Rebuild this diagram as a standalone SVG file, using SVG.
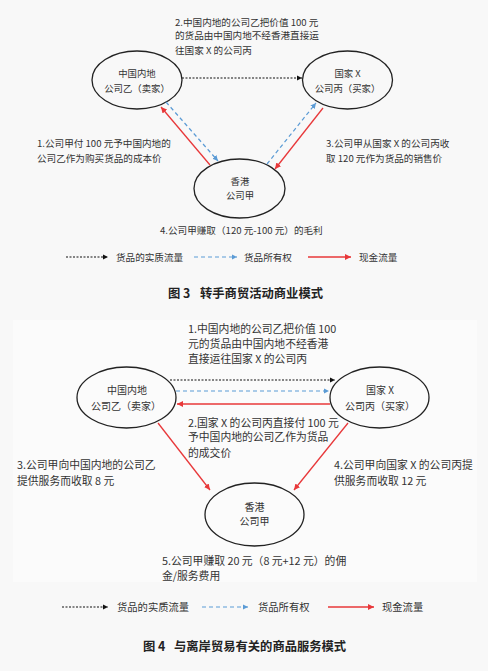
<svg xmlns="http://www.w3.org/2000/svg" width="488" height="671" viewBox="0 0 488 671">
<defs>
<style>
text{font-family:"Noto Sans CJK SC","Noto Sans",sans-serif;fill:#333}
.l1{font-size:9.6px}
.n1{font-size:9.4px;text-anchor:middle}
.l2{font-size:10.8px}
.n2{font-size:10px;text-anchor:middle}
.lg1{font-size:9.6px}
.lg2{font-size:10.3px}
.cap{font-size:12.3px;font-weight:bold;fill:#222}
.node{fill:none;stroke:#222;stroke-width:1.3}
.phys{fill:none;stroke:#111;stroke-width:1.2;stroke-dasharray:2 1.5}
.own{fill:none;stroke:#5b9bd5;stroke-width:1.2;stroke-dasharray:4 3}
.cash{fill:none;stroke:#e8383a;stroke-width:1.3}
</style>
<marker id="mk" viewBox="0 0 6 6" refX="6" refY="3" markerWidth="5.5" markerHeight="5.5" markerUnits="userSpaceOnUse" orient="auto"><path d="M0,0 L6,3 L0,6 z" fill="#111"/></marker>
<marker id="mb" viewBox="0 0 6 6" refX="6" refY="3" markerWidth="5.5" markerHeight="5.5" markerUnits="userSpaceOnUse" orient="auto"><path d="M0,0 L6,3 L0,6 z" fill="#5b9bd5"/></marker>
<marker id="mr" viewBox="0 0 6 6" refX="6" refY="3" markerWidth="6" markerHeight="6" markerUnits="userSpaceOnUse" orient="auto"><path d="M0,0 L6,3 L0,6 z" fill="#e8383a"/></marker>
</defs>
<rect x="0" y="0" width="488" height="671" fill="#f8f8f8"/>
<rect x="13" y="320" width="464" height="262" fill="#fbfbfb"/>

<!-- Figure 3 -->
<g id="fig3-nodes">
<g id="f3-yi"><ellipse class="node" cx="137" cy="80" rx="45" ry="29"/><text class="n1" x="137" y="76.5">中国内地</text><text class="n1" x="137" y="91.5">公司乙（卖家）</text></g>
<g id="f3-bing"><ellipse class="node" cx="347.5" cy="80" rx="45" ry="29"/><text class="n1" x="347.5" y="76.5">国家 X</text><text class="n1" x="347.5" y="91.5">公司丙（买家）</text></g>
<g id="f3-jia"><ellipse class="node" cx="239.5" cy="188.5" rx="45.5" ry="29.5"/><text class="n1" x="240" y="184.5">香港</text><text class="n1" x="240" y="198.5">公司甲</text></g>
</g>
<g id="fig3-connectors">
<line class="phys" x1="182" y1="78" x2="302" y2="78" marker-end="url(#mk)"/>
<line class="own" x1="166" y1="102" x2="218" y2="161" marker-end="url(#mb)"/>
<line class="cash" x1="210" y1="165" x2="161" y2="107" marker-end="url(#mr)"/>
<line class="own" x1="267" y1="164" x2="316" y2="103" marker-end="url(#mb)"/>
<line class="cash" x1="323" y1="108" x2="275" y2="169" marker-end="url(#mr)"/>
</g>
<g id="fig3-labels">
<text class="l1" x="175" y="25.5">2.中国内地的公司乙把价值 100 元</text>
<text class="l1" x="175" y="39">的货品由中国内地不经香港直接运</text>
<text class="l1" x="175" y="53.5">往国家 X 的公司丙</text>
<text class="l1" x="37" y="146.5">1.公司甲付 100 元予中国内地的</text>
<text class="l1" x="37" y="161.5">公司乙作为购买货品的成本价</text>
<text class="l1" x="326" y="146.5">3.公司甲从国家 X 的公司丙收</text>
<text class="l1" x="326" y="161.5">取 120 元作为货品的销售价</text>
<text class="l1" x="160" y="233.5">4.公司甲赚取（120 元-100 元）的毛利</text>
</g>
<g id="fig3-legend">
<line class="phys" x1="66" y1="257" x2="108" y2="257" marker-end="url(#mk)"/>
<text class="lg1" x="116" y="260.5">货品的实质流量</text>
<line class="own" x1="194" y1="257" x2="237" y2="257" marker-end="url(#mb)"/>
<text class="lg1" x="244" y="260.5">货品所有权</text>
<line class="cash" x1="308" y1="257" x2="351" y2="257" marker-end="url(#mr)"/>
<text class="lg1" x="359" y="260.5">现金流量</text>
</g>
<g id="fig3-caption">
<text class="cap" x="168" y="297.5">图 3</text>
<text class="cap" x="200" y="297.5">转手商贸活动商业模式</text>
</g>

<!-- Figure 4 -->
<g id="fig4-nodes">
<g id="f4-yi"><ellipse class="node" cx="126.5" cy="397.5" rx="49.5" ry="30.5"/><text class="n2" x="127" y="393.9">中国内地</text><text class="n2" x="126" y="409.9">公司乙（卖家）</text></g>
<g id="f4-bing"><ellipse class="node" cx="379.5" cy="397.5" rx="49.5" ry="30.5"/><text class="n2" x="380" y="393.9">国家 X</text><text class="n2" x="380" y="409.9">公司丙（买家）</text></g>
<g id="f4-jia"><ellipse class="node" cx="254.5" cy="514.5" rx="49.5" ry="31.5"/><text class="n2" x="254.5" y="510.6">香港</text><text class="n2" x="254.5" y="524.6">公司甲</text></g>
</g>
<g id="fig4-connectors">
<line class="phys" x1="170" y1="380" x2="335" y2="380" marker-end="url(#mk)"/>
<line class="own" x1="176" y1="391" x2="329" y2="391" marker-end="url(#mb)"/>
<line class="cash" x1="330" y1="404" x2="177" y2="404" marker-end="url(#mr)"/>
<line class="cash" x1="158" y1="423" x2="210" y2="490" marker-end="url(#mr)"/>
<line class="cash" x1="348" y1="423" x2="294" y2="490" marker-end="url(#mr)"/>
</g>
<g id="fig4-labels">
<text class="l2" x="188" y="332.9">1.中国内地的公司乙把价值 100</text>
<text class="l2" x="188" y="348.2">元的货品由中国内地不经香港</text>
<text class="l2" x="188" y="363.2">直接运往国家 X 的公司丙</text>
<text class="l2" x="188" y="426.6">2.国家 X 的公司丙直接付 100 元</text>
<text class="l2" x="188" y="441.2">予中国内地的公司乙作为货品</text>
<text class="l2" x="188" y="456.6">的成交价</text>
<text class="l2" x="17" y="468.9">3.公司甲向中国内地的公司乙</text>
<text class="l2" x="17" y="484.9">提供服务而收取 8 元</text>
<text class="l2" x="334" y="468.9">4.公司甲向国家 X 的公司丙提</text>
<text class="l2" x="334" y="484.9">供服务而收取 12 元</text>
<text class="l2" x="162" y="564.9">5.公司甲赚取 20 元（8 元+12 元）的佣</text>
<text class="l2" x="162" y="579.9">金/服务费用</text>
</g>
<g id="fig4-legend">
<line class="phys" x1="62" y1="607" x2="108" y2="607" marker-end="url(#mk)"/>
<text class="lg2" x="117" y="610.5">货品的实质流量</text>
<line class="own" x1="202" y1="607" x2="248" y2="607" marker-end="url(#mb)"/>
<text class="lg2" x="258" y="610.5">货品所有权</text>
<line class="cash" x1="328" y1="607" x2="374" y2="607" marker-end="url(#mr)"/>
<text class="lg2" x="382" y="610.5">现金流量</text>
</g>
<g id="fig4-caption">
<text class="cap" x="143" y="650.5">图 4</text>
<text class="cap" x="174" y="650.5">与离岸贸易有关的商品服务模式</text>
</g>
</svg>
